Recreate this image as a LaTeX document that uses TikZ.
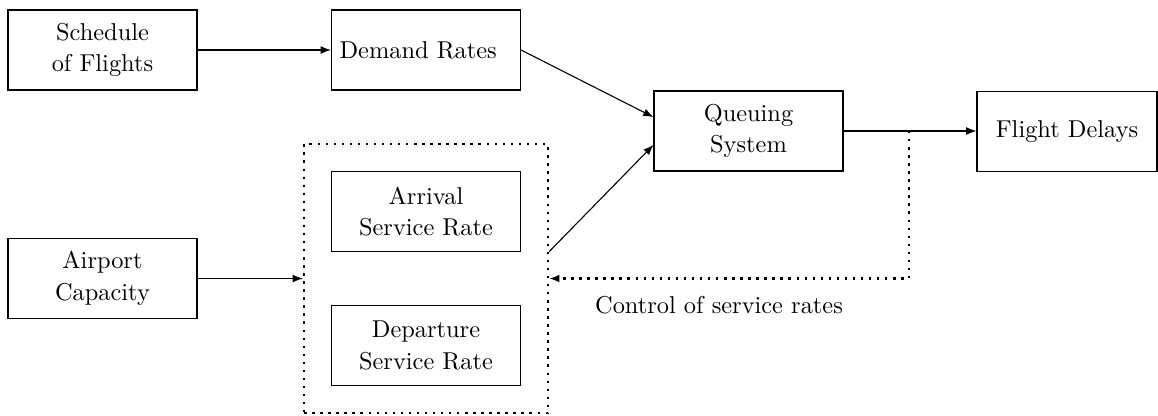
\documentclass[tikz,border=0pt]{standalone}
\usetikzlibrary{arrows.meta,fit}
\begin{document}
\begin{tikzpicture}[x=0.41pt,y=-0.41pt,
  box/.style={draw,line width=0.45pt,minimum width=77.5pt,minimum height=32.8pt,align=center,inner sep=0pt,font=\linespread{1.08}\selectfont},
  conn/.style={line width=0.45pt,-{Latex[length=4.2pt,width=3.2pt]}},
  dotline/.style={line width=1pt,dash pattern=on 1pt off 2.3pt},
  dotarrow/.style={dotline,-{Latex[length=4.2pt,width=3.2pt]}}]
\useasboundingbox (0,0) rectangle (1158,415);
\node[box] (sched) at (102.5,50) {Schedule\\of Flights};
\node[box,text width=70.9pt,align=left,inner xsep=3.3pt,minimum width=0pt] (demand) at (426,50) {Demand Rates};
\node[box] (queue) at (748.5,131) {Queuing\\System};
\node[box,minimum width=73.8pt] (delays) at (1067,131.5) {Flight Delays};
\node[box] (arrival) at (426,211.5) {Arrival\\Service Rate};
\node[box] (departure) at (426,345.5) {Departure\\Service Rate};
\node[box] (capacity) at (102.5,278.5) {Airport\\Capacity};
\node[dotline,draw,fit=(arrival)(departure),inner sep=11pt] (group) {};
\node (ctrl) at (719,305) {Control of service rates};
\coordinate (fb) at (909,131);
\draw[conn] (sched) -- (demand);
\draw[conn] (demand.east) -- ([yshift=5.7pt]queue.west);
\draw[conn] ([yshift=11pt]group.east) -- ([yshift=-5.7pt]queue.west);
\draw[conn] (capacity) -- (group.west);
\draw[conn] (queue.east) -- (queue.east -| delays.west);
\draw[dotarrow] (fb) |- (group.east);
\end{tikzpicture}
\end{document}
